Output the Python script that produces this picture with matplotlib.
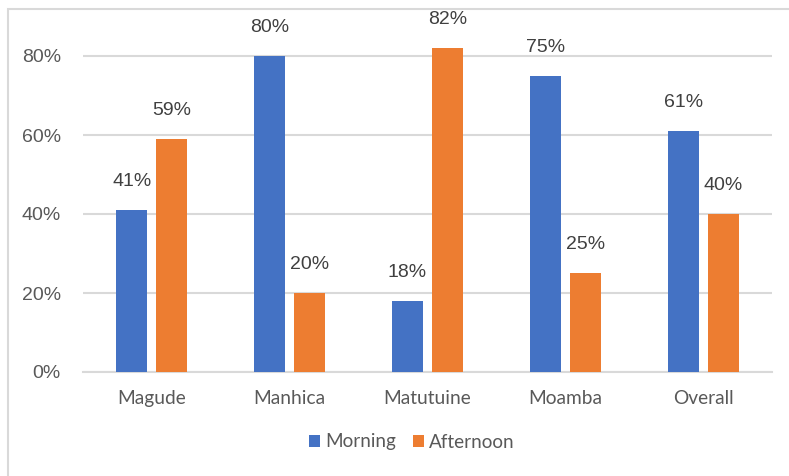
import numpy as np
import matplotlib.pyplot as plt
from matplotlib.patches import Rectangle

districts = ["Magude", "Manhica", "Matutuine", "Moamba", "Overall"]
morning = [41, 80, 18, 75, 61]
afternoon = [59, 20, 82, 25, 40]

blue = "#4472C4"
orange = "#ED7D31"

fig = plt.figure(figsize=(7.89, 4.76), dpi=100)
W, H = 789, 476

# chart area border
fig.patches.append(Rectangle((8 / W, -0.1), 1.2, 1 - 9 / H + 0.1,
                             transform=fig.transFigure, fill=False,
                             edgecolor="#d9d9d9", linewidth=1.5))

# y range 0..0.9, gridlines only up to 80%
ax = fig.add_axes([83 / W, 1 - 372 / H, (772 - 83) / W, (372 - 16.5) / H])

x = np.arange(len(districts))
w = 0.225
off = 0.145
b1 = ax.bar(x - off, np.array(morning) / 100, w, color=blue, zorder=3)
b2 = ax.bar(x + off, np.array(afternoon) / 100, w, color=orange, zorder=3)

for bars, vals in [(b1, morning), (b2, afternoon)]:
    for b, v in zip(bars, vals):
        ax.annotate(f"{v}%", (b.get_x() + b.get_width() / 2, b.get_height()),
                    xytext=(0, 20.5), textcoords="offset points",
                    ha="center", va="center", fontsize=14,
                    family="Liberation Sans", color="#404040",
                    annotation_clip=False)

ax.set_xlim(-0.5, 4.5)
ax.set_ylim(0, 0.9)
ax.set_yticks([0, 0.2, 0.4, 0.6, 0.8])
ax.set_yticklabels(["0%", "20%", "40%", "60%", "80%"],
                   family="Liberation Sans", fontsize=14, color="#595959")
ax.set_xticks(x)
ax.set_xticklabels(districts, family="Lato", fontsize=13.8, color="#595959")
ax.tick_params(axis="both", length=0)
ax.tick_params(axis="y", pad=16)
ax.tick_params(axis="x", pad=13)
ax.grid(axis="y", color="#d9d9d9", linewidth=1.5, zorder=0)
ax.set_axisbelow(True)
for s in ["top", "right", "left"]:
    ax.spines[s].set_visible(False)
ax.spines["bottom"].set_color("#d9d9d9")
ax.spines["bottom"].set_linewidth(1.5)

fig.legend([b1, b2], ["Morning", "Afternoon"], loc="center",
           bbox_to_anchor=(412 / W, 1 - 442 / H), ncol=2, frameon=False,
           prop={"family": "Lato", "size": 13.6}, labelcolor="#595959",
           handlelength=0.55, handleheight=0.55, handletextpad=0.3,
           columnspacing=0.9)

fig.savefig("out.png", dpi=100)
